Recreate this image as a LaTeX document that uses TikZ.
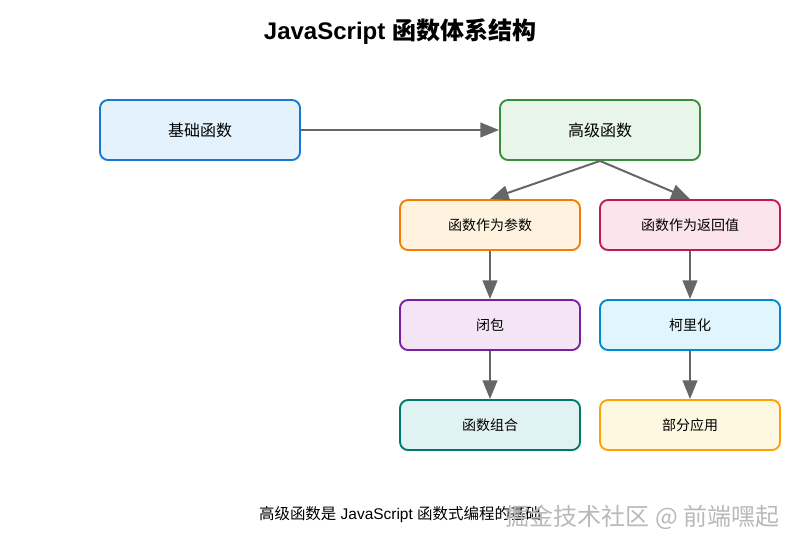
\documentclass[tikz,border=0pt]{standalone}
\usepackage{fontspec}
\setmainfont{Liberation Sans}
\newfontfamily\cjk{Noto Sans CJK SC}
\usepackage{xcolor}
\usepackage{tikz}
\usetikzlibrary{arrows.meta,positioning}

\definecolor{baseFill}{HTML}{E3F2FD}\definecolor{baseLine}{HTML}{1976D2}
\definecolor{highFill}{HTML}{E8F5E9}\definecolor{highLine}{HTML}{388E3C}
\definecolor{argFill}{HTML}{FFF3E0}\definecolor{argLine}{HTML}{F57C00}
\definecolor{retFill}{HTML}{FCE4EC}\definecolor{retLine}{HTML}{C2185B}
\definecolor{closFill}{HTML}{F3E5F5}\definecolor{closLine}{HTML}{7B1FA2}
\definecolor{curryFill}{HTML}{E1F5FE}\definecolor{curryLine}{HTML}{0288D1}
\definecolor{compFill}{HTML}{E0F2F1}\definecolor{compLine}{HTML}{00796B}
\definecolor{partFill}{HTML}{FFF8E1}\definecolor{partLine}{HTML}{FFA000}
\definecolor{arrowGray}{HTML}{666666}

\begin{document}
\begin{tikzpicture}
		[x=0.75pt,y=-0.75pt,
		box/.style={shape=rectangle,rounded corners=6pt,line width=1.4pt,inner sep=0pt},
		bigbox/.style={box,minimum width=150pt,minimum height=45pt,font=\cjk\fontsize{12}{14}\selectfont},
		smallbox/.style={box,minimum width=135pt,minimum height=37.5pt,font=\cjk\fontsize{10.5}{12}\selectfont},
		link/.style={draw=arrowGray,line width=1.5pt,-{Triangle[length=14pt,width=11pt]}}]
		\useasboundingbox (0,0) rectangle (800,550);
		\node (title) at (400,32) {\fontsize{18}{20}\selectfont\bfseries JavaScript {\cjk 函数体系结构}};
		\node[bigbox,draw=baseLine,fill=baseFill] (base) at (200,130) {基础函数};
		\node[bigbox,draw=highLine,fill=highFill] (high) at (600,130) {高级函数};
		\node[smallbox,draw=argLine,fill=argFill] (arg) at (490,225) {函数作为参数};
		\node[smallbox,draw=retLine,fill=retFill] (ret) at (690,225) {函数作为返回值};
		\node[smallbox,draw=closLine,fill=closFill] (clos) at (490,325) {闭包};
		\node[smallbox,draw=curryLine,fill=curryFill] (curry) at (690,325) {柯里化};
		\node[smallbox,draw=compLine,fill=compFill] (comp) at (490,425) {函数组合};
		\node[smallbox,draw=partLine,fill=partFill] (part) at (690,425) {部分应用};
		\node (note) at (400,515) {\fontsize{11.6}{13}\selectfont{\cjk 高级函数是} JavaScript {\cjk 函数式编程的基础}};
		\node[anchor=east,text=gray!55] (mark) at (784,517) {\cjk\fontsize{18}{20}\selectfont 掘金技术社区 @ 前端嘿起};
		\path
		\foreach \startNode/\endNode in {base.east/high.west,high.south/arg.north,high.south/ret.north,arg/clos,ret/curry,clos/comp,curry/part}
		{
			(\startNode) edge[link] (\endNode)
		};
		\end{tikzpicture}
\end{document}
